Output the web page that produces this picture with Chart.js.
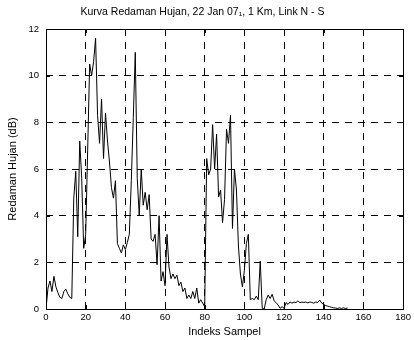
<!DOCTYPE html>
<html>
<head>
<meta charset="utf-8">
<script src="https://cdn.jsdelivr.net/npm/chart.js@4/dist/chart.umd.min.js"></script>
<style>
  html, body { margin: 0; padding: 0; background: #fff; }
  #wrap { width: 414px; height: 340px; }
</style>
</head>
<body>
<div id="wrap"><canvas id="chart-id" width="414" height="340"></canvas></div>
<script>
// --- Data ---
var titleText = 'Kurva Redaman Hujan, 22 Jan 07\u2081, 1 Km, Link N - S';
var xLabel = 'Indeks Sampel';
var yLabel = 'Redaman Hujan (dB)';

var xTicks = [0, 20, 40, 60, 80, 100, 120, 140, 160, 180]; //Sample index ticks
var yTicks = [0, 2, 4, 6, 8, 10, 12]; //Attenuation ticks (dB)

// Rain attenuation per sample index (dB), index 0..152
var attenuationDb = [
    0, 0.9, 1.2, 0.75, 1.4, 0.95, 0.7, 0.5, 0.45, 0.75,
    0.85, 0.65, 0.5, 0.45, 4.75, 5.9, 3.1, 7.2, 5.6, 2.6,
    3.2, 6.8, 10.5, 10.0, 10.6, 11.6, 8.3, 7.1, 9.0, 6.45,
    8.4, 7.2, 6.3, 5.2, 4.75, 5.5, 2.8, 2.6, 2.4, 2.75,
    2.55, 2.85, 3.2, 5.5, 8.2, 11.0, 5.6, 4.0, 6.0, 4.45,
    5.0, 4.25, 4.9, 3.0, 2.9, 3.2, 1.9, 4.0, 1.2, 1.6,
    1.0, 3.2, 1.8, 1.3, 1.5, 1.3, 1.45, 1.0, 1.15, 0.75,
    0.9, 0.45, 0.6, 0.45, 0.75, 0.45, 0.9, 0.25, 0.4, 0.25,
    0.1, 6.45, 5.75, 6.0, 7.9, 6.0, 7.5, 4.8, 5.1, 3.7,
    4.7, 7.7, 7.1, 8.3, 3.45, 6.0, 5.1, 2.7, 1.5, 0.95,
    1.65, 2.8, 3.2, 0.4, 0.45, 0.4, 0.55, 0.4, 2.05, 0.03,
    0, 0.4, 0.6, 0.45, 0.63, 0.35, 0.27, 0.17, 0.03, 0.1,
    0.03, 0.27, 0.2, 0.3, 0.25, 0.3, 0.27, 0.35, 0.27, 0.3,
    0.28, 0.3, 0.26, 0.3, 0.28, 0.25, 0.3, 0.28, 0.38, 0.25,
    0.2, 0.15, 0.12, 0.1, 0.07, 0.05, 0.04, 0.02, 0.05, 0.02,
    0.05, 0.02, 0.04
];

var FONT = '"Liberation Sans", Arial, Helvetica, sans-serif';

// MATLAB style box with inward tick marks on all four sides
var boxTicks = {
    id: 'boxTicks',
    afterDatasetsDraw: function(chart) {
        var ctx = chart.ctx;
        var a = chart.chartArea;
        var xs = chart.scales.x, ys = chart.scales.y;
        var len = 4;
        ctx.save();
        ctx.strokeStyle = '#000';
        ctx.lineWidth = 1;
        ctx.beginPath();
        xTicks.forEach(function(v) {
            var px = Math.round(xs.getPixelForValue(v)) + 0.5;
            ctx.moveTo(px, a.bottom); ctx.lineTo(px, a.bottom - len);
            ctx.moveTo(px, a.top); ctx.lineTo(px, a.top + len);
        });
        yTicks.forEach(function(v) {
            var py = Math.round(ys.getPixelForValue(v)) + 0.5;
            ctx.moveTo(a.left, py); ctx.lineTo(a.left + len, py);
            ctx.moveTo(a.right, py); ctx.lineTo(a.right - len, py);
        });
        ctx.stroke();
        ctx.strokeRect(Math.round(a.left) + 0.5, Math.round(a.top) + 0.5,
                       Math.round(a.right - a.left), Math.round(a.bottom - a.top));
        ctx.restore();
    }
};

var points = attenuationDb.map(function(v, i) { return { x: i, y: v }; });

var config = {
    type: 'line',
    data: {
        datasets: [{
            data: points,
            borderColor: '#000',
            borderWidth: 1,
            pointRadius: 0,
            tension: 0,
            fill: false
        }]
    },
    options: {
        responsive: false,
        animation: false,
        layout: { padding: { left: 0, right: 9, top: 0, bottom: 0 } },
        plugins: {
            legend: { display: false },
            tooltip: { enabled: false },
            title: {
                display: true,
                text: titleText,
                color: '#000',
                font: { family: FONT, size: 10.5, weight: 'normal', lineHeight: 1.2 },
                padding: { top: 6, bottom: 10.4 }
            }
        },
        scales: {
            x: {
                type: 'linear',
                min: 0, max: 180,
                afterBuildTicks: function(s) { s.ticks = xTicks.map(function(v) { return { value: v }; }); },
                afterFit: function(s) { s.height = 31; },
                ticks: { color: '#000', font: { family: FONT, size: 9.5 }, padding: 3, maxRotation: 0 },
                grid: { color: '#000', lineWidth: 1, drawTicks: false },
                border: { display: false, dash: [7, 6] },
                title: { display: true, text: xLabel, color: '#000',
                         font: { family: FONT, size: 11, lineHeight: 1.2 }, padding: { top: 0, bottom: 1 } }
            },
            y: {
                min: 0, max: 12,
                afterBuildTicks: function(s) { s.ticks = yTicks.map(function(v) { return { value: v }; }); },
                afterFit: function(s) { s.width = 46; },
                ticks: { color: '#000', font: { family: FONT, size: 9.5 }, padding: 7 },
                grid: { color: '#000', lineWidth: 1, drawTicks: false },
                border: { display: false, dash: [7, 6] },
                title: { display: true, text: yLabel, color: '#000',
                         font: { family: FONT, size: 11, lineHeight: 1.2 }, padding: { top: 6.5, bottom: 0 } }
            }
        }
    },
    plugins: [boxTicks]
};

new Chart(document.getElementById('chart-id').getContext('2d'), config);
</script>
</body>
</html>
